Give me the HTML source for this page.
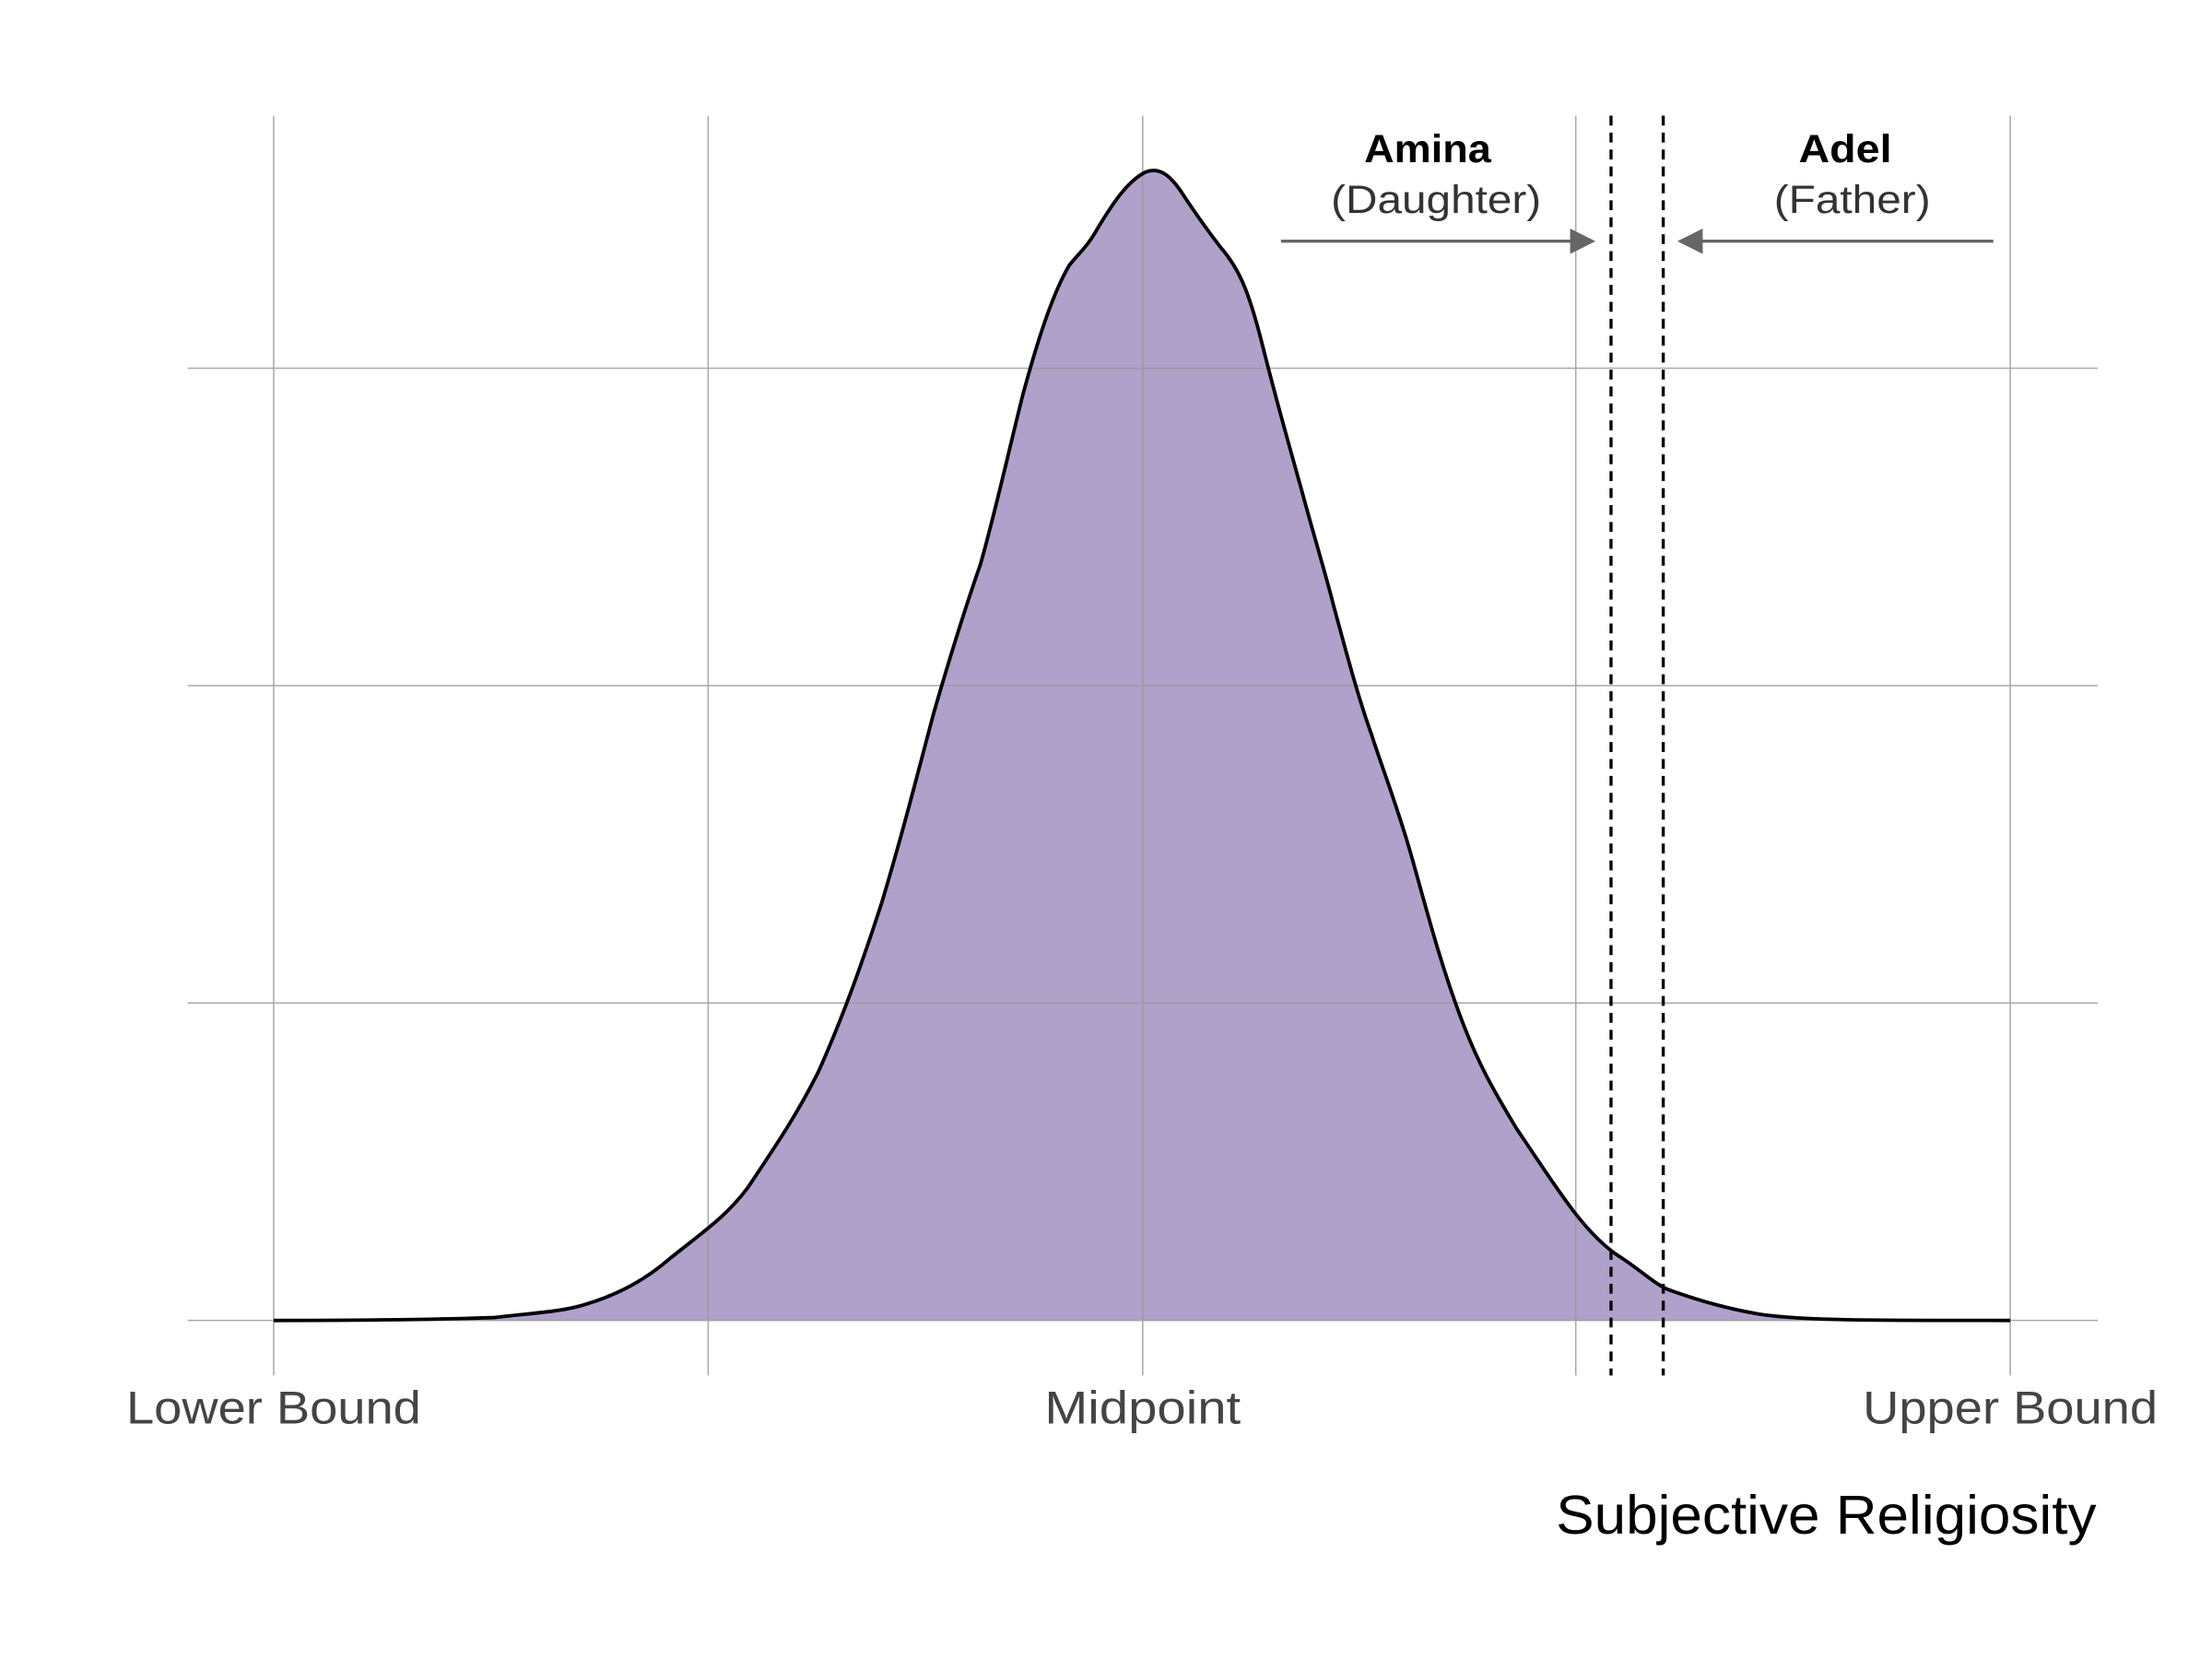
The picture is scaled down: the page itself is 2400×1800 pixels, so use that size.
<!DOCTYPE html>
<html><head><meta charset="utf-8"><style>html,body{margin:0;padding:0;background:#fff}svg{display:block}</style></head>
<body>
<svg width="2400" height="1800" viewBox="0 0 1568 1176" xmlns="http://www.w3.org/2000/svg">
<rect width="1568" height="1176" fill="#fff"/>
<path d="M194,936 C260,936 320,935 350,934 C375,931 395,930 410,926 C440,918 460,905 475,892 C500,872 515,862 530,842 C550,812 565,790 580,760 C598,720 612,680 625,640 C640,590 650,550 662,505 C675,460 688,420 695,400 C705,365 715,320 725,280 C738,232 748,205 758,188 C766,178 770,176 778,162 C790,142 800,128 812,122 C822,118 830,124 840,140 C848,152 855,162 865,175 C878,190 885,205 895,245 C905,285 915,320 922,345 C930,375 940,408 945,428 C955,465 963,495 972,520 C980,545 990,570 1000,605 C1010,640 1020,680 1035,720 C1048,755 1060,775 1075,800 C1090,822 1100,838 1115,858 C1128,875 1140,886 1150,892 C1165,902 1175,912 1185,915 C1205,922 1225,928 1250,932 C1280,936 1320,936 1425,936 Z" fill="#b0a1ca"/>
<g stroke="#999" stroke-width="1" opacity="0.85">
<line x1="194" y1="82" x2="194" y2="975"/><line x1="502" y1="82" x2="502" y2="975"/><line x1="810" y1="82" x2="810" y2="975"/><line x1="1117" y1="82" x2="1117" y2="975"/><line x1="1425" y1="82" x2="1425" y2="975"/>
<line x1="133" y1="261" x2="1487" y2="261"/><line x1="133" y1="486" x2="1487" y2="486"/><line x1="133" y1="711" x2="1487" y2="711"/><line x1="133" y1="936" x2="1487" y2="936"/>
</g>
<path d="M194,936 C260,936 320,935 350,934 C375,931 395,930 410,926 C440,918 460,905 475,892 C500,872 515,862 530,842 C550,812 565,790 580,760 C598,720 612,680 625,640 C640,590 650,550 662,505 C675,460 688,420 695,400 C705,365 715,320 725,280 C738,232 748,205 758,188 C766,178 770,176 778,162 C790,142 800,128 812,122 C822,118 830,124 840,140 C848,152 855,162 865,175 C878,190 885,205 895,245 C905,285 915,320 922,345 C930,375 940,408 945,428 C955,465 963,495 972,520 C980,545 990,570 1000,605 C1010,640 1020,680 1035,720 C1048,755 1060,775 1075,800 C1090,822 1100,838 1115,858 C1128,875 1140,886 1150,892 C1165,902 1175,912 1185,915 C1205,922 1225,928 1250,932 C1280,936 1320,936 1425,936" fill="none" stroke="#000" stroke-width="2.5"/>
<g stroke="#000" stroke-width="2.2" stroke-dasharray="7,5">
<line x1="1142" y1="82" x2="1142" y2="975"/><line x1="1179" y1="82" x2="1179" y2="975"/>
</g>
<g stroke="#666" stroke-width="2.2" fill="#666">
<line x1="908" y1="171" x2="1118" y2="171"/><polygon points="1131,171 1113,162 1113,180" stroke="none"/>
<line x1="1413" y1="171" x2="1202" y2="171"/><polygon points="1189,171 1207,162 1207,180" stroke="none"/>
</g>
<g font-family="Liberation Sans, sans-serif" text-anchor="middle" lengthAdjust="spacingAndGlyphs">
<text x="1012" y="115" font-size="28" font-weight="bold" textLength="90" lengthAdjust="spacingAndGlyphs">Amina</text>
<text x="1018" y="151" font-size="28" fill="#333" textLength="149" lengthAdjust="spacingAndGlyphs">(Daughter)</text>
<text x="1308" y="115" font-size="28" font-weight="bold" textLength="66" lengthAdjust="spacingAndGlyphs">Adel</text>
<text x="1313" y="151" font-size="28" fill="#333" textLength="111" lengthAdjust="spacingAndGlyphs">(Father)</text>
<text x="194" y="1009" font-size="33" fill="#444" textLength="209" lengthAdjust="spacingAndGlyphs">Lower Bound</text>
<text x="810" y="1009" font-size="33" fill="#444" textLength="139" lengthAdjust="spacingAndGlyphs">Midpoint</text>
<text x="1425" y="1009" font-size="33" fill="#444" textLength="209" lengthAdjust="spacingAndGlyphs">Upper Bound</text>
<text x="1486" y="1087" font-size="39" text-anchor="end" fill="#000" textLength="383" lengthAdjust="spacingAndGlyphs">Subjective Religiosity</text>
</g>
</svg>
</body></html>
